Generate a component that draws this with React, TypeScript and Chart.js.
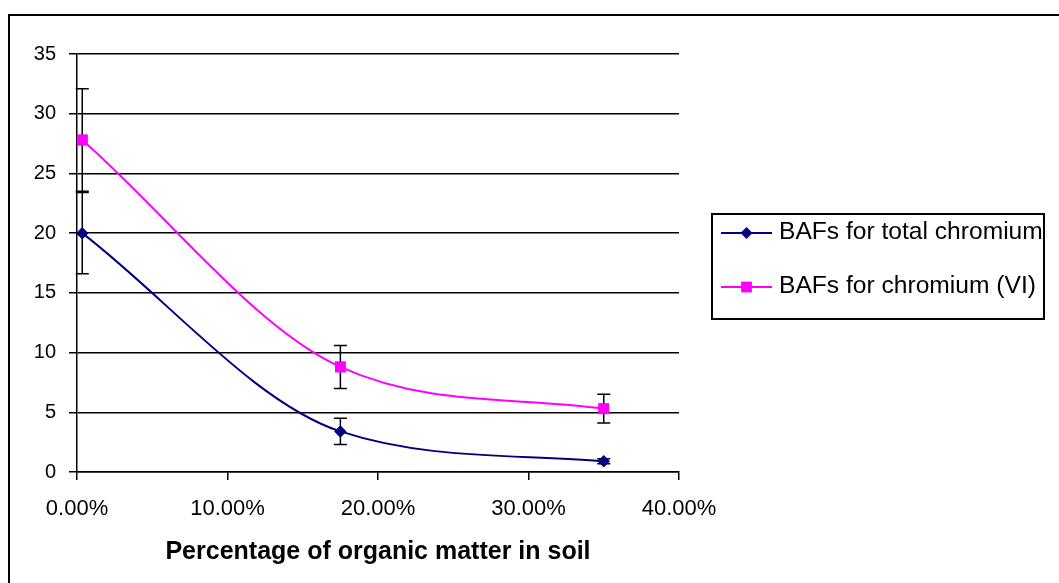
import React, { useEffect, useRef } from "react";
import { Chart, registerables } from "chart.js";

Chart.register(...registerables);

// ---- data ----
const organicMatter = [0.0035, 0.175, 0.35];
const totalChromium = [20, 3.4, 0.9];
const totalChromiumErr = [3.4, 1.1, 0.2];
const chromiumVI = [27.8, 8.8, 5.3];
const chromiumVIErr = [4.3, 1.8, 1.2];
const seriesNames = ["BAFs for total chromium", "BAFs for chromium (VI)"];
const xTickValues = [0, 0.1, 0.2, 0.3, 0.4];
const yTickValues = [0, 5, 10, 15, 20, 25, 30, 35];
const xTitle = "Percentage of organic matter in soil";

const FONT = "'Liberation Sans', Arial, sans-serif";
const NAVY = "#000080";
const MAGENTA = "#FF00FF";

const errorBarPlugin = {
  id: "errorBars",
  afterDatasetsDraw(chart: any) {
    const ctx = chart.ctx;
    const yScale = chart.scales.y;
    ctx.save();
    ctx.strokeStyle = "#000";
    ctx.lineWidth = 1.5;
    chart.data.datasets.forEach((ds: any, i: number) => {
      const meta = chart.getDatasetMeta(i);
      const errs: number[] = ds.errorBars || [];
      meta.data.forEach((pt: any, j: number) => {
        const v = ds.data[j].y;
        const e = errs[j];
        if (e == null) return;
        const top = yScale.getPixelForValue(v + e);
        const bot = yScale.getPixelForValue(v - e);
        const x = pt.x;
        const cap = 6.5;
        ctx.beginPath();
        ctx.moveTo(x, top);
        ctx.lineTo(x, bot);
        ctx.moveTo(x - cap, top);
        ctx.lineTo(x + cap, top);
        ctx.moveTo(x - cap, bot);
        ctx.lineTo(x + cap, bot);
        ctx.stroke();
      });
    });
    ctx.restore();
    // redraw points on top of the bars
    chart.data.datasets.forEach((_ds: any, i: number) => {
      const meta = chart.getDatasetMeta(i);
      meta.data.forEach((pt: any) => pt.draw(ctx, chart.chartArea));
    });
  },
};

function drawMarker(ctx: CanvasRenderingContext2D, style: string, x: number, y: number, color: string) {
  ctx.fillStyle = color;
  ctx.beginPath();
  if (style === "rectRot") {
    const r = 6;
    ctx.moveTo(x - r, y);
    ctx.lineTo(x, y - r);
    ctx.lineTo(x + r, y);
    ctx.lineTo(x, y + r);
    ctx.closePath();
  } else {
    const h = 5.4;
    ctx.rect(x - h, y - h, 2 * h, 2 * h);
  }
  ctx.fill();
}

const boxLegendPlugin = {
  id: "boxLegend",
  afterDraw(chart: any) {
    const ctx = chart.ctx;
    const left = chart.chartArea.right + 33;
    const top = 214;
    const w = 332;
    const h = 105;
    ctx.save();
    ctx.strokeStyle = "#000";
    ctx.lineWidth = 2;
    ctx.strokeRect(left, top, w, h);
    chart.data.datasets.forEach((ds: any, i: number) => {
      const y = top + 19 + i * 54;
      ctx.strokeStyle = ds.borderColor;
      ctx.lineWidth = 2;
      ctx.beginPath();
      ctx.moveTo(left + 9, y);
      ctx.lineTo(left + 60, y);
      ctx.stroke();
      drawMarker(ctx, ds.pointStyle, left + 34.5, y, ds.borderColor);
      ctx.fillStyle = "#000";
      ctx.font = `24.6px ${FONT}`;
      ctx.textBaseline = "middle";
      ctx.textAlign = "left";
      ctx.fillText(ds.label, left + 67, y - 1);
    });
    ctx.restore();
  },
};

export default function App() {
  const canvasRef = useRef<HTMLCanvasElement | null>(null);

  useEffect(() => {
    const canvas = canvasRef.current;
    if (!canvas) return;
    const chart = new Chart(canvas, {
      type: "line",
      data: {
        datasets: [
          {
            label: seriesNames[0],
            data: organicMatter.map((x, i) => ({ x, y: totalChromium[i] })),
            errorBars: totalChromiumErr,
            borderColor: NAVY,
            backgroundColor: NAVY,
            borderWidth: 2,
            pointStyle: "rectRot",
            pointRadius: 6,
            pointBorderWidth: 0,
            cubicInterpolationMode: "monotone",
            fill: false,
          } as any,
          {
            label: seriesNames[1],
            data: organicMatter.map((x, i) => ({ x, y: chromiumVI[i] })),
            errorBars: chromiumVIErr,
            borderColor: MAGENTA,
            backgroundColor: MAGENTA,
            borderWidth: 2,
            pointStyle: "rect",
            pointRadius: 7.6,
            pointBorderWidth: 0,
            cubicInterpolationMode: "monotone",
            fill: false,
          } as any,
        ],
      },
      options: {
        responsive: false,
        animation: false,
        events: [],
        layout: { padding: { left: 0, top: 54, right: 380, bottom: 0 } },
        plugins: {
          legend: { display: false },
          tooltip: { enabled: false },
        },
        scales: {
          x: {
            type: "linear",
            min: 0,
            max: 0.4,
            afterBuildTicks: (scale: any) => {
              scale.ticks = xTickValues.map((v) => ({ value: v }));
            },
            afterFit: (scale: any) => {
              scale.height = 111;
            },
            ticks: {
              color: "#000",
              font: { family: FONT, size: 22 },
              padding: 16,
              maxRotation: 0,
              callback: (v: any) => (Number(v) * 100).toFixed(2) + "%",
            },
            grid: {
              drawOnChartArea: false,
              drawTicks: true,
              tickLength: 8,
              color: "#000",
              lineWidth: 1.5,
            },
            border: { display: true, color: "#000", width: 1.5 },
            title: {
              display: true,
              text: xTitle,
              color: "#000",
              font: { family: FONT, size: 25, weight: "bold" },
              padding: { top: 0, bottom: 16 },
            },
          },
          y: {
            type: "linear",
            min: 0,
            max: 35,
            afterBuildTicks: (scale: any) => {
              scale.ticks = yTickValues.map((v) => ({ value: v }));
            },
            afterFit: (scale: any) => {
              scale.width = 77;
            },
            ticks: {
              color: "#000",
              font: { family: FONT, size: 20 },
              padding: 13,
            },
            grid: {
              drawOnChartArea: true,
              drawTicks: true,
              tickLength: 8,
              color: "#000",
              lineWidth: 1.5,
            },
            border: { display: true, color: "#000", width: 1.5 },
          },
        },
      },
      plugins: [errorBarPlugin, boxLegendPlugin],
    } as any);
    return () => chart.destroy();
  }, []);

  return (
    <>
      <div
        style={{
          position: "fixed",
          left: 8,
          top: 14,
          width: 1100,
          height: 700,
          borderLeft: "2px solid #000",
          borderTop: "2px solid #000",
          boxSizing: "border-box",
          background: "#fff",
        }}
      />
      <canvas
        ref={canvasRef}
        width={1059}
        height={583}
        style={{ position: "fixed", left: 0, top: 0, width: 1059, height: 583 }}
      />
    </>
  );
}
